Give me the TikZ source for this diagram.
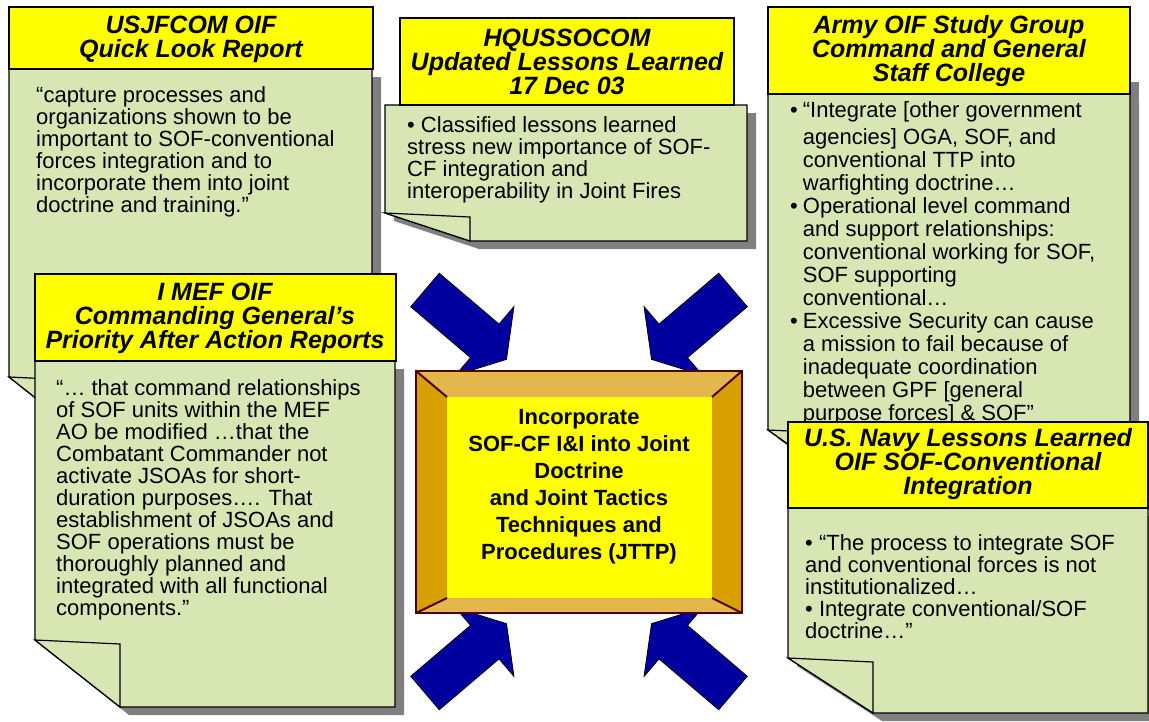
\documentclass[tikz,border=0pt]{standalone}
\usepackage{fontspec}
\setmainfont{Liberation Sans}

\definecolor{hdryellow}{RGB}{255,255,0}
\definecolor{notegreen}{RGB}{216,230,180}
\definecolor{shadowgray}{RGB}{128,128,128}
\definecolor{arrowblue}{RGB}{0,0,160}
\definecolor{bevellight}{RGB}{228,182,75}
\definecolor{beveldark}{RGB}{215,160,0}
\definecolor{bevelline}{RGB}{77,0,0}

% folded note: x1, y1, x2, y2, fold width, fold height
\newcommand{\notepaper}[6]{%
  \fill[noteshadow,shift={(9,8)}] (#1,#2) -- (#3,#2) -- (#3,#4) -- ({#1+#5},#4) -- (#1,{#4-#6}) -- cycle;
  \filldraw[notefill] (#1,#2) -- (#3,#2) -- (#3,#4) -- ({#1+#5},#4) -- (#1,{#4-#6}) -- cycle;
  \filldraw[notefill] (#1,{#4-#6}) -- ({#1+#5},{#4-#6+4}) -- ({#1+#5},#4) -- cycle;
}

\begin{document}
\begin{tikzpicture}[x=1pt,y=-1pt,
  hdrfill/.style={fill=hdryellow,draw=black,line width=1.2pt},
  notefill/.style={fill=notegreen,draw=black,line width=1.2pt},
  noteshadow/.style={fill=shadowgray},
  hdrtext/.style={align=center,inner sep=0pt,font=\fontsize{25}{24}\selectfont\bfseries\itshape},
  bodytext/.style={align=left,anchor=north west,inner sep=0pt,font=\fontsize{22}{22}\selectfont},
  arrowfill/.style={fill=arrowblue,draw=black,line width=0.8pt},
  blockarrow/.pic={\filldraw[arrowfill] (0,-22) -- (78.5,-22) -- (78.5,-45) -- (107,0) -- (78.5,45) -- (78.5,22) -- (0,22) -- cycle;}]
\useasboundingbox (0,0) rectangle (1149,721);

%Note: USJFCOM
\notepaper{9}{69}{372}{444}{85}{67}
\filldraw[hdrfill] (9,7) rectangle (373,69);
\node (hdrjfcom) [hdrtext] at (191,39) {USJFCOM OIF\\Quick Look Report};
\node (txtjfcom) [bodytext] at (36,86) {“capture processes and\\organizations shown to be\\important to SOF-conventional\\forces integration and to\\incorporate them into joint\\doctrine and training.”};

%Note: Army
\fill[noteshadow] (1130,82) rectangle (1139,102);
\notepaper{768}{94}{1130}{490}{85}{60}
\filldraw[hdrfill] (768,7) rectangle (1130,94);
\node (hdrarmy) [hdrtext] at (949,51) {Army OIF Study Group\\Command and General\\Staff College};
\node (txtarmy) [bodytext,font=\fontsize{22}{23}\selectfont] at (790,101) {\begin{tabular}{@{}l@{\hspace{5pt}}l@{}}
•&“Integrate [other government\\[4pt]
 &agencies] OGA, SOF, and\\
 &conventional TTP into\\
 &warfighting doctrine…\\
•&Operational level command\\
 &and support relationships:\\
 &conventional working for SOF,\\
 &SOF supporting\\
 &conventional…\\
•&Excessive Security can cause\\
 &a mission to fail because of\\
 &inadequate coordination\\
 &between GPF [general\\
 &purpose forces] \& SOF”
\end{tabular}};

%Note: HQUSSOCOM
\notepaper{385}{105}{747}{241}{85}{28}
\filldraw[hdrfill] (400,18) rectangle (734,105);
\node (hdrsocom) [hdrtext] at (567,62) {HQUSSOCOM\\Updated Lessons Learned\\17 Dec 03};
\node (txtsocom) [bodytext] at (407,116) {• Classified lessons learned\\stress new importance of SOF-\\CF integration and\\interoperability in Joint Fires};

%Arrows
\pic[rotate=-40.4] at (425,290) {blockarrow};
\pic[rotate=-139.6] at (733,290) {blockarrow};
\pic[rotate=40.4] at (425,693) {blockarrow};
\pic[rotate=139.6] at (733,693) {blockarrow};

%Center frame
\fill[bevellight] (416,371) -- (742,371) -- (712,397) -- (447,397) -- cycle;
\fill[bevellight] (416,613) -- (447,598) -- (712,598) -- (742,613) -- cycle;
\fill[beveldark] (416,371) -- (447,397) -- (447,598) -- (416,613) -- cycle;
\fill[beveldark] (742,371) -- (712,397) -- (712,598) -- (742,613) -- cycle;
\fill[hdryellow] (447,397) rectangle (712,598);
\draw[bevelline,line width=2pt] (416,371) -- (447,397) (742,371) -- (712,397) (416,613) -- (447,598) (742,613) -- (712,598);
\draw[bevelline,line width=2pt] (416,371) rectangle (742,613);
\node (goal) [align=center,inner sep=0pt,font=\fontsize{22}{27}\selectfont\bfseries] at (579,487) {Incorporate\\SOF-CF I\&I into Joint\\Doctrine\\and Joint Tactics\\Techniques and\\Procedures (JTTP)};

%Note: I MEF
\notepaper{35}{361}{395}{707}{85}{67}
\filldraw[hdrfill] (35,274) rectangle (396,361);
\node (hdrmef) [hdrtext] at (215,318) {I MEF OIF\\Commanding General’s\\Priority After Action Reports};
\node (txtmef) [bodytext] at (56,379) {“… that command relationships\\of SOF units within the MEF\\AO be modified …that the\\Combatant Commander not\\activate JSOAs for short-\\duration purposes…. That\\establishment of JSOAs and\\SOF operations must be\\thoroughly planned and\\integrated with all functional\\components.”};

%Note: Navy
\notepaper{788}{508}{1148}{713}{85}{55}
\filldraw[hdrfill] (788,422) rectangle (1148,508);
\node (hdrnavy) [hdrtext] at (968,464) {U.S. Navy Lessons Learned\\OIF SOF-Conventional\\Integration};
\node (txtnavy) [bodytext] at (805,534) {• “The process to integrate SOF\\and conventional forces is not\\institutionalized…\\• Integrate conventional/SOF\\doctrine…”};

\end{tikzpicture}
\end{document}
